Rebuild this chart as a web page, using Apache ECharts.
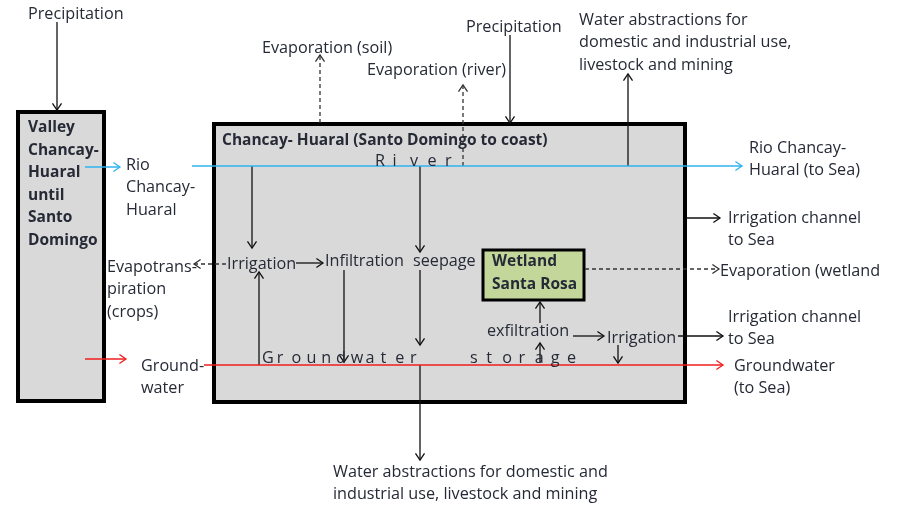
<!DOCTYPE html>
<html><head><meta charset="utf-8">
<script src="https://cdn.jsdelivr.net/npm/echarts@6/dist/echarts.min.js"></script>
<style>html,body{margin:0;padding:0;background:#fff}#c{width:899px;height:508px}</style>
</head><body><div id="c"></div>
<script>
// Diagram data (positions in the diagram's own 899 x 508 coordinate space)
const compartments = [[18,112,104,401],[214,124,685,402]];
const wetland = [[483,250,584,300]];
const solidArrows = [
  [57,22,57,110],[510,35,510,123],[628,166,628,74],[252,166,252,248],
  [296,263,323,263],[259,365,259,272],[344,270,344,362],[420,166,420,252],
  [420,270,420,345],[420,365,420,460],[540,323,540,302],[540,363,540,343],
  [573,336,604,336],[678,336,723,336],[618,345,618,363],[686,218,720,218]
];
const dashedArrows = [[320,123,320,55],[463,166,463,85],[226,264,194,264],[585,269,719,269]];
const riverArrows = [[85,167,120,167],[192,166,742,166]];
const groundwaterArrows = [[85,359,126,359],[204,365,723,365]];
const labels = [
  [28,14,'Precipitation'],
  [262,48,'Evaporation (soil)'],
  [367,70,'Evaporation (river)'],
  [466,27,'Precipitation'],
  [579,20,'Water abstractions for\ndomestic and industrial use,\nlivestock and mining'],
  [126,165,'Rio\nChancay-\nHuaral'],
  [749,148,'Rio Chancay-\nHuaral (to Sea)'],
  [728,218,'Irrigation channel\nto Sea'],
  [107,267,'Evapotrans-\npiration\n(crops)'],
  [227,264,'Irrigation'],
  [325,261,'Infiltration'],
  [413,261,'seepage'],
  [720,271,'Evaporation (wetland'],
  [487,331,'exfiltration'],
  [607,338,'Irrigation'],
  [728,317,'Irrigation channel\nto Sea'],
  [141,366,'Ground-\nwater'],
  [734,366,'Groundwater\n(to Sea)'],
  [333,472,'Water abstractions for domestic and\nindustrial use, livestock and mining']
];
const boldLabels = [
  [28,128,'Valley\nChancay-\nHuaral\nuntil\nSanto\nDomingo'],
  [222,141,'Chancay- Huaral (Santo Domingo to coast)'],
  [492,262,'Wetland\nSanta Rosa']
];
// [x of first letter, y, word, x of last letter]
const spacedLabels = [[375,161,'River',445],[262,358,'Groundwater',410],[470,358,'storage',567]];

const FONT = '"Open Sans", Lato, sans-serif';
const FS = 16.2;
const FS_BOLD = 15.5;
const TEXT_COLOR = '#262a36';
const LH = 22.5;

function boxSeries(data, fill, lw){
  return {type:'custom', coordinateSystem:'cartesian2d', data, z:1,
    renderItem(params, api){
      const a = api.coord([api.value(0), api.value(1)]);
      const b = api.coord([api.value(2), api.value(3)]);
      return {type:'rect', shape:{x:a[0], y:a[1], width:b[0]-a[0], height:b[1]-a[1]},
        style:{fill, stroke:'#000', lineWidth:lw}};
    }};
}
function arrowSeries(data, color, dash){
  return {type:'custom', coordinateSystem:'cartesian2d', data, z:3,
    renderItem(params, api){
      const a = api.coord([api.value(0), api.value(1)]);
      const b = api.coord([api.value(2), api.value(3)]);
      const ang = Math.atan2(b[1]-a[1], b[0]-a[0]);
      const L = 8, w = 0.6;
      const h1 = [b[0]-L*Math.cos(ang-w), b[1]-L*Math.sin(ang-w)];
      const h2 = [b[0]-L*Math.cos(ang+w), b[1]-L*Math.sin(ang+w)];
      return {type:'group', children:[
        {type:'line', shape:{x1:a[0], y1:a[1], x2:b[0], y2:b[1]},
          style:{stroke:color, lineWidth:1.3, lineDash: dash ? [4,3] : null}},
        {type:'polyline', shape:{points:[h1,b,h2]}, style:{stroke:color, lineWidth:1.3, fill:null}}
      ]};
    }};
}
function textSeries(data, weight, size){
  return {type:'custom', coordinateSystem:'cartesian2d', data, z:5,
    renderItem(params, api){
      const d = data[params.dataIndex];
      const p = api.coord([d[0], d[1]]);
      return {type:'text', x:p[0], y:p[1]-LH/2,
        style:{text:d[2], fill:TEXT_COLOR, fontFamily:FONT, fontSize:size, fontWeight:weight,
          lineHeight:LH, align:'left', verticalAlign:'top'}};
    }};
}
function spacedSeries(data){
  return {type:'custom', coordinateSystem:'cartesian2d', data, z:5,
    renderItem(params, api){
      const d = data[params.dataIndex];
      const p = api.coord([d[0], d[1]]);
      const q = api.coord([d[3], d[1]]);
      const chars = d[2].split('');
      const step = (q[0]-p[0])/(chars.length-1);
      return {type:'group', children: chars.map((ch,i)=>({type:'text', x:p[0]+i*step, y:p[1],
        style:{text:ch, fill:TEXT_COLOR, fontFamily:FONT, fontSize:FS, align:'left', verticalAlign:'middle'}}))};
    }};
}

const chart = echarts.init(document.getElementById('c'), null, {renderer:'canvas'});
chart.setOption({
  animation:false,
  backgroundColor:'#fff',
  grid:{left:0,right:0,top:0,bottom:0},
  xAxis:{type:'value', min:0, max:899, show:false},
  yAxis:{type:'value', min:0, max:508, inverse:true, show:false},
  series:[
    boxSeries(compartments, '#d9d9d9', 4),
    boxSeries(wetland, '#c4d79b', 3),
    arrowSeries(solidArrows, '#111', false),
    arrowSeries(dashedArrows, '#333', true),
    arrowSeries(riverArrows, '#2fb2ef', false),
    arrowSeries(groundwaterArrows, '#f01e1e', false),
    textSeries(labels, 'normal', FS),
    textSeries(boldLabels, 'bold', FS_BOLD),
    spacedSeries(spacedLabels)
  ]
});
</script></body></html>
